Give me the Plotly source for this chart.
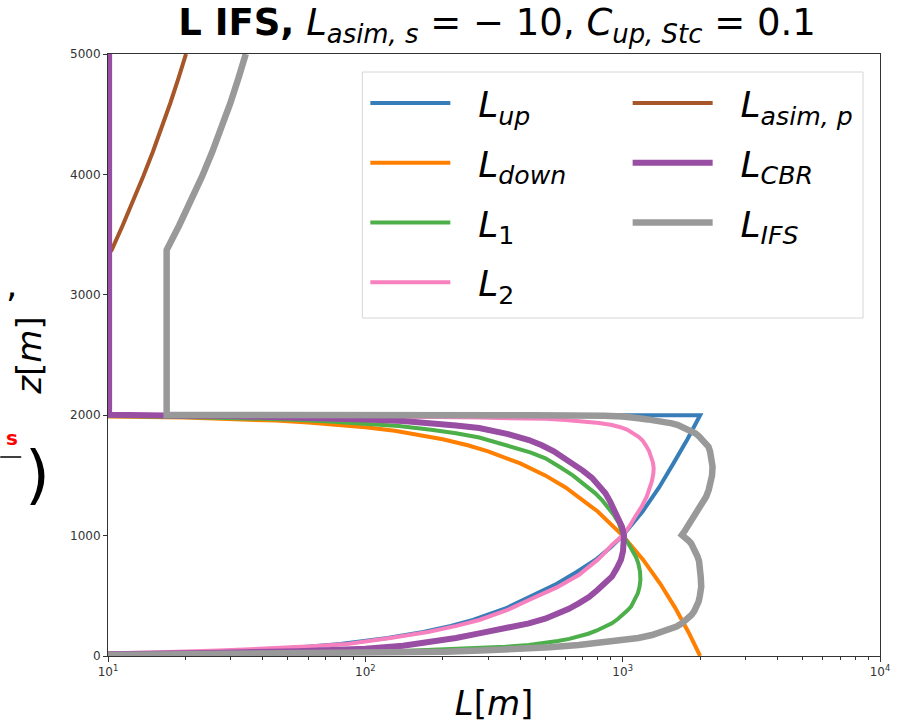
import plotly.graph_objects as go

# ---------------- data ----------------
# L_up
z_up = [3, 10, 25, 50, 75, 100, 150, 200, 250, 300, 400, 500, 600, 700, 800, 900, 1000,
        1200, 1400, 1600, 1800, 2000, 2000.5]
L_up = [2, 7, 18, 38, 58, 80, 122, 168, 215, 262, 355, 445, 555, 665, 785, 895, 1000,
        1195, 1385, 1575, 1785, 2000, 1]

# L_down
z_down = [0, 200, 400, 600, 800, 1000, 1200, 1400, 1500, 1600, 1700, 1750, 1800, 1840, 1870, 1900,
          1920, 1940, 1955, 1970, 1980, 1988, 1995, 2000]
L_down = [2000, 1800, 1600, 1400, 1200, 1000, 800, 600, 500, 400, 300, 250, 200, 160, 130, 100,
          80, 60, 45, 30, 20, 12, 5, 1]

# L_1
z_1 = [3, 10, 20, 30, 44, 54, 64, 77, 91, 108, 125, 142, 161, 185, 210, 240, 271, 305, 340, 375, 410,
       465, 520, 575, 631, 700, 770, 825, 880, 940, 1000, 1050, 1102, 1170, 1230, 1290, 1351, 1420,
       1500, 1570, 1642, 1690, 1730, 1775, 1815, 1850, 1880, 1910, 1930, 1950, 1965, 1978, 1988, 1995, 2000]
L_1 = [3, 20, 60, 100, 152, 210, 277, 350, 432, 500, 560, 620, 675, 735, 790, 850, 908, 955, 1000, 1040, 1078,
       1115, 1145, 1163, 1172, 1168, 1150, 1125, 1090, 1048, 1000, 985, 967, 925, 880, 835, 783, 715,
       640, 570, 501, 440, 380, 325, 277, 225, 180, 135, 100, 70, 50, 32, 18, 8, 1]

# L_2
z_2 = [10, 20, 30, 45, 60, 80, 100, 125, 150, 200, 250, 299, 380, 465, 570, 673, 740, 800, 860, 922, 1000,
       1080, 1157, 1240, 1323, 1390, 1450, 1510, 1560, 1610, 1655, 1705, 1750, 1790, 1821, 1852, 1880,
       1900, 1918, 1935, 1950, 1961, 1970, 1976, 1980, 1986, 1992, 1996, 1998, 2000]
L_2 = [5, 10, 15, 27, 40, 62, 85, 105, 125, 175, 226, 277, 355, 432, 555, 675, 740, 800, 855, 908, 1000,
       1065, 1118, 1185, 1240, 1275, 1298, 1315, 1320, 1310, 1290, 1265, 1230, 1195, 1153, 1100, 1040,
       980, 908, 810, 700, 600, 500, 400, 277, 180, 100, 50, 30, 5]

# L_asim,p
z_asim = [3330, 3372, 3576, 3779, 3983, 4186, 4390, 4593, 4797, 5000]
L_asim = [9.9, 10.33, 11.40, 12.53, 13.70, 14.93, 16.18, 17.47, 18.78, 20.1]

# L_CBR
z_cbr = [3, 8, 15, 25, 40, 60, 85, 110, 150, 188, 230, 271, 310, 350, 390, 437, 490, 550, 600, 659, 730,
         800, 870, 935, 1000, 1074, 1140, 1200, 1280, 1351, 1420, 1480, 1540, 1600, 1650, 1700, 1750,
         1794, 1845, 1893, 1915, 1935, 1952, 1965, 1977, 1985, 1990, 1993, 1996, 1998, 2000, 2003, 5000]
L_cbr = [3, 6, 12, 25, 55, 100, 140, 175, 225, 277, 355, 432, 500, 560, 615, 675, 740, 800, 850, 908, 950,
         985, 1003, 1012, 1012, 994, 965, 930, 895, 857, 810, 760, 700, 637, 590, 540, 485,
         432, 355, 277, 225, 180, 140, 100, 70, 50, 38, 30, 20, 15, 12, 10.1, 10.1]

# L_IFS
z_ifs = [3, 6, 8, 11, 14, 18, 22, 28, 36, 45, 55, 72, 91, 110, 130, 150, 174, 200, 220, 245, 271, 305,
         340, 375, 410, 455, 500, 576, 660, 742, 790, 830, 870, 908, 935, 960, 985, 1005, 1040, 1080,
         1120, 1157, 1200, 1240, 1280, 1323, 1380, 1434, 1500, 1572, 1620, 1660, 1700, 1739, 1770, 1800,
         1825, 1850, 1875, 1900, 1918, 1932, 1945, 1955, 1965, 1974, 1983, 1990, 1995, 1998, 2000, 2001,
         3372, 3576, 3779, 3983, 4186, 4390, 4593, 4797, 5000]
L_ifs = [5, 8, 10, 18, 30, 60, 100, 150, 206, 280, 372, 520, 675, 840, 1000, 1150, 1300, 1430, 1530, 1620, 1698, 1780,
         1850, 1900, 1940, 1975, 1995, 2020, 2010, 2000, 1980, 1950, 1920, 1884, 1845, 1800, 1750, 1698, 1745, 1790,
         1840, 1884, 1950, 2010, 2060, 2110, 2160, 2200, 2225, 2235, 2228, 2210, 2185, 2154, 2100, 2040,
         1980, 1915, 1820, 1720, 1640, 1553, 1450, 1350, 1250, 1153, 1070, 1000, 850, 700, 450, 16.9,
         16.9, 18.9, 21.0, 23.2, 25.4, 27.7, 29.9, 32.1, 34.3]

# tick labels
y_ticks = [0, 1000, 2000, 3000, 4000, 5000]
x_tickvals = [10, 100, 1000, 10000]
x_ticktext = ["10<sup>1</sup>", "10<sup>2</sup>", "10<sup>3</sup>", "10<sup>4</sup>"]

# ---------------- figure ----------------
SP = "&nbsp;&nbsp;"
# (name, x, y, colour, width, legend)
series = [
    (SP + "<i>L</i><sub><i>up</i></sub>", L_up, z_up, "#377eb8", 4, "legend"),
    (SP + "<i>L</i><sub><i>down</i></sub>", L_down, z_down, "#ff7f00", 4, "legend"),
    (SP + "<i>L</i><sub>1</sub>", L_1, z_1, "#4daf4a", 4, "legend"),
    (SP + "<i>L</i><sub>2</sub>", L_2, z_2, "#f781bf", 4, "legend"),
    (SP + "<i>L</i><sub><i>asim, p</i></sub>", L_asim, z_asim, "#a65628", 4, "legend2"),
    (SP + "<i>L</i><sub><i>CBR</i></sub>", L_cbr, z_cbr, "#984ea3", 6, "legend2"),
    (SP + "<i>L</i><sub><i>IFS</i></sub>", L_ifs, z_ifs, "#999999", 6.5, "legend2"),
]

fig = go.Figure()
for i, (name, xs, ys, col, w, leg) in enumerate(series):
    fig.add_trace(go.Scatter(x=xs, y=ys, mode="lines", name=name, legend=leg,
                             legendgroup="g%d" % i,
                             line=dict(color=col, width=w, shape="linear")))

font_main = "DejaVu Sans"


def px_x(p):
    return (p - 108) / 774


def px_y(p):
    return (656 - p) / 602


leg_common = dict(
    xanchor="left", yanchor="top", orientation="v",
    bgcolor="rgba(0,0,0,0)", borderwidth=0,
    font=dict(size=36, family=font_main, color="black"),
    itemwidth=80, tracegroupgap=10,
)

fig.update_layout(
    width=902, height=728,
    margin=dict(l=108, r=20, t=54, b=72),
    paper_bgcolor="white", plot_bgcolor="white",
    font=dict(family=font_main, color="#111"),
    title=dict(
        text="<b>L IFS,</b> <i>L</i><sub><i>asim, s</i></sub> = − 10, <i>C</i><sub><i>up, Stc</i></sub> = 0.1",
        x=0.551, xanchor="center", xref="container",
        y=0.97, yanchor="middle", yref="container",
        font=dict(size=37, family=font_main, color="black"),
    ),
    showlegend=True,
    legend=dict(x=px_x(366), y=px_y(73), **leg_common),
    legend2=dict(x=px_x(629), y=px_y(73), **leg_common),
    xaxis=dict(
        type="log", range=[1, 4],
        tickvals=x_tickvals, ticktext=x_ticktext,
        ticks="outside", ticklen=5, tickcolor="#333",
        tickfont=dict(size=12, family=font_main, color="#333"),
        minor=dict(ticks="outside", ticklen=3, tickcolor="#333", dtick="D1", showgrid=False),
        showline=True, linecolor="#333", linewidth=1, mirror=True,
        showgrid=False, zeroline=False,
        title=dict(text="<i>L</i>[<i>m</i>]", font=dict(size=34, family=font_main, color="black"), standoff=12),
    ),
    yaxis=dict(
        range=[0, 5000], tickvals=y_ticks,
        ticks="outside", ticklen=4, tickcolor="#333",
        tickfont=dict(size=12, family=font_main, color="#333"),
        showline=True, linecolor="#333", linewidth=1, mirror=True,
        showgrid=False, zeroline=False,
        title=dict(text="<i>z</i>[<i>m</i>]", font=dict(size=34, family=font_main, color="black"), standoff=18),
    ),
)

# legend frame (white box above the curves, below the legend texts)
fig.add_shape(type="rect", xref="paper", yref="paper", layer="above",
              x0=px_x(363), x1=px_x(865), y0=px_y(72), y1=px_y(318),
              fillcolor="white", line=dict(color="#d6d6d6", width=1))

# fragments of a neighbouring panel cut at the left edge
fig.add_annotation(text=",", xref="paper", yref="paper", x=px_x(11), y=px_y(284),
                   xanchor="center", yanchor="middle", showarrow=False,
                   font=dict(size=36, family=font_main, color="black"))
fig.add_annotation(text="<b>s</b>", xref="paper", yref="paper", x=px_x(12), y=px_y(438),
                   xanchor="center", yanchor="middle", showarrow=False,
                   font=dict(size=20, family=font_main, color="red"))
fig.add_annotation(text=")", xref="paper", yref="paper", x=px_x(37), y=px_y(475),
                   xanchor="center", yanchor="middle", showarrow=False,
                   font=dict(size=64, family=font_main, color="black"))
fig.add_shape(type="line", xref="paper", yref="paper",
              x0=px_x(0), x1=px_x(21), y0=px_y(457), y1=px_y(457),
              line=dict(color="black", width=1.5))

fig.write_html("out.html", config={"displayModeBar": False},
               post_script="document.body.style.margin='0px';")
